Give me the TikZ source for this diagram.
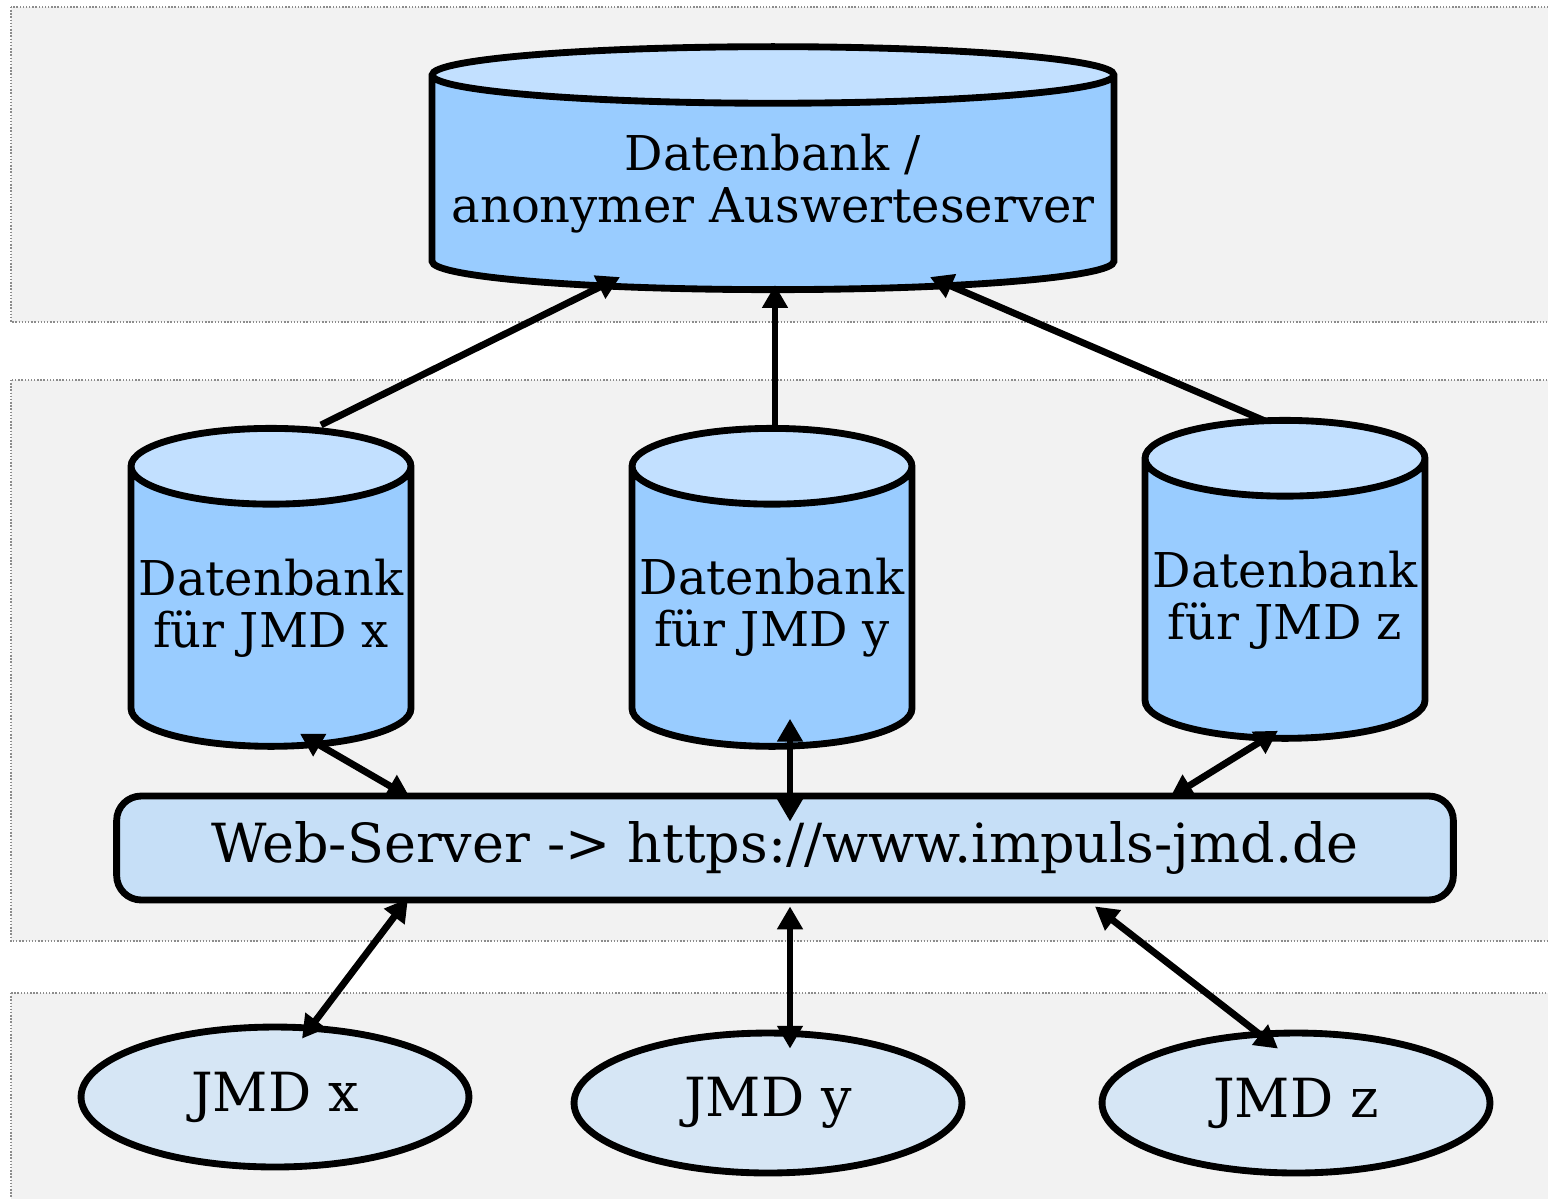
\documentclass[tikz,border=0pt]{standalone}
\usepackage{fontspec}
\setmainfont{DejaVu Serif}
\usepackage{tikz}
\usetikzlibrary{arrows,arrows.meta,shapes,backgrounds}
\definecolor{bandgray}{HTML}{F2F2F2}
\definecolor{bandline}{HTML}{8C8C8C}
\definecolor{dbbody}{HTML}{99CCFF}
\definecolor{dbtop}{HTML}{C2E0FF}
\definecolor{webfill}{HTML}{C6DFF7}
\definecolor{jmdfill}{HTML}{D6E6F5}

\begin{document}
\begin{tikzpicture}[x=0.02cm, y=-0.02cm, line width=3.9pt]
	\tikzstyle{band} = [fill=bandgray, draw=bandline, line width=0.8pt, densely dotted]
	\tikzstyle{db} = [cylinder, shape border rotate=90, draw, cylinder uses custom fill, cylinder body fill=dbbody, cylinder end fill=dbtop, align=center, inner sep=0pt, font=\fontsize{27.3}{29.5}\selectfont]
	\tikzstyle{web} = [rectangle, rounded corners=14pt, draw, fill=webfill, minimum width=26.74cm, minimum height=2.08cm, font=\fontsize{30.7}{32}\selectfont]
	\tikzstyle{jmd} = [ellipse, draw, fill=jmdfill, minimum width=7.76cm, minimum height=2.8cm, font=\fontsize{30.7}{32}\selectfont]
	\tikzstyle{line} = [draw, -{Triangle[length=13pt,width=14pt]}]
	\tikzstyle{both} = [draw, {Triangle[length=13pt,width=14pt]}-{Triangle[length=13pt,width=14pt]}]
	\useasboundingbox (0,0) rectangle (1548,1198);
	% bands
	\path[band] (11,7) rectangle (1570,322);
	\path[band] (11,380) rectangle (1570,941);
	\path[band] (11,993) rectangle (1570,1220);
	% top
	\node [db, minimum height=4.86cm, minimum width=13.64cm, aspect=0.088] (main) at (773,184) {Datenbank /\\anonymer Auswerteserver};
	% middle
	\node [db, minimum height=6.36cm, minimum width=5.6cm, aspect=0.286] (dbx) at (271,608) {Datenbank\\f\"ur JMD x};
	\node [db, minimum height=6.36cm, minimum width=5.6cm, aspect=0.286] (dby) at (772,608) {Datenbank\\f\"ur JMD y};
	\node [db, minimum height=6.36cm, minimum width=5.6cm, aspect=0.286] (dbz) at (1285,600) {Datenbank\\f\"ur JMD z};
	\node [web] (srv) at (785,848) {Web-Server -> https://www.impuls-jmd.de};
	% bottom
	\node [jmd] (jx) at (275,1097) {JMD x};
	\node [jmd] (jy) at (768,1103) {JMD y};
	\node [jmd] (jz) at (1296,1103) {JMD z};
	% connectors
	\path [line] ([shift={(50,0)}]dbx.north) -- ([shift={(-153,-16)}]main.south);
	\path [line] ([shift={(3,0)}]dby.north) -- ([shift={(2,-8)}]main.south);
	\path [line] ([shift={(-20,4)}]dbz.north) -- ([shift={(157,-16)}]main.south);
	\path [both] ([shift={(29,-16)}]dbx.south) -- ([shift={(-375,5)}]srv.north);
	\path [both] ([shift={(18,-31)}]dby.south) -- ([shift={(5,29)}]srv.north);
	\path [both] ([shift={(-7,-11)}]dbz.south) -- ([shift={(385,5)}]srv.north);
	\path [both] ([shift={(-377,-5)}]srv.south) -- ([shift={(27,15)}]jx.north);
	\path [both] ([shift={(5,3)}]srv.south) -- ([shift={(22,19)}]jy.north);
	\path [both] ([shift={(310,3)}]srv.south) -- ([shift={(-18,19)}]jz.north);
\end{tikzpicture}
\end{document}
